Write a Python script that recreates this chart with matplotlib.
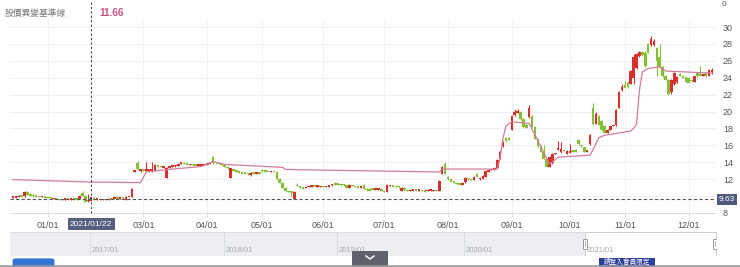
import numpy as np
import matplotlib
matplotlib.use('Agg')
from matplotlib import pyplot as plt
from matplotlib import patches, transforms
from matplotlib.lines import Line2D

plt.rcParams['font.family'] = ['Liberation Sans', 'Noto Sans CJK TC', 'DejaVu Sans']

# daily candles (open, high, low, close), one list per month, Dec 2020 -> Dec 2021
dec20 = [(9.85, 9.95, 9.8, 9.9), (9.85, 10.0, 9.8, 9.95), (9.9, 10.1, 9.85, 10.05), (10.0, 10.05, 9.9, 9.95),
         (10.0, 10.65, 9.95, 10.55), (10.55, 10.6, 10.15, 10.2), (10.3, 10.35, 10.05, 10.1), (10.15, 10.2, 9.95, 10.0),
         (10.0, 10.05, 9.9, 9.95), (10.0, 10.05, 9.85, 9.9), (9.9, 10.0, 9.85, 9.95), (9.95, 10.0, 9.8, 9.85)]
jan21 = [(9.9, 9.95, 9.75, 9.8), (9.8, 9.85, 9.7, 9.75), (9.65, 9.8, 9.6, 9.75), (9.72, 9.78, 9.62, 9.68),
         (9.6, 9.65, 9.5, 9.55), (9.55, 9.65, 9.5, 9.6), (9.58, 9.7, 9.55, 9.65), (9.65, 9.7, 9.55, 9.62),
         (9.6, 9.7, 9.55, 9.66), (9.64, 9.68, 9.55, 9.6), (9.75, 9.8, 9.55, 9.6), (9.7, 10.15, 9.65, 10.1),
         (10.45, 10.65, 10.0, 10.05), (10.05, 10.1, 9.3, 9.35), (9.4, 10.2, 9.35, 9.55), (9.45, 9.95, 9.4, 9.9),
         (9.8, 9.85, 9.55, 9.6), (9.6, 9.7, 9.55, 9.65), (9.65, 9.7, 9.5, 9.55), (9.55, 9.7, 9.5, 9.65)]
feb21 = [(9.6, 9.65, 9.5, 9.55), (9.55, 9.75, 9.5, 9.7), (9.75, 9.8, 9.6, 9.65), (9.7, 10.0, 9.65, 9.95),
         (9.95, 10.0, 9.65, 9.7), (9.7, 9.9, 9.65, 9.85), (9.85, 9.9, 9.7, 9.75), (9.6, 10.0, 9.55, 9.95),
         (9.9, 10.05, 9.85, 10.0), (9.95, 10.9, 9.9, 10.85), (12.9, 13.05, 12.85, 13.0), (14.0, 14.2, 13.1, 13.2),
         (13.0, 13.2, 12.9, 13.1)]
mar21 = [(13.1, 13.15, 12.95, 13.0), (13.0, 14.0, 12.9, 13.05), (13.0, 13.1, 12.9, 13.05), (13.0, 14.0, 12.85, 13.1),
         (13.0, 13.8, 12.95, 13.75), (13.6, 13.65, 13.45, 13.5), (13.5, 13.55, 13.4, 13.45), (13.4, 13.55, 13.35, 13.5),
         (12.2, 13.45, 12.1, 13.4), (13.4, 13.55, 13.35, 13.5), (13.5, 13.6, 13.45, 13.55), (13.55, 13.65, 13.5, 13.6),
         (13.6, 13.9, 13.55, 13.85), (13.85, 13.95, 13.8, 13.9), (13.95, 14.0, 13.75, 13.8), (13.8, 13.85, 13.7, 13.75),
         (13.7, 13.8, 13.65, 13.75), (13.75, 13.8, 13.6, 13.7), (13.7, 13.75, 13.6, 13.65), (13.6, 13.7, 13.55, 13.65),
         (13.65, 13.75, 13.6, 13.7), (13.7, 13.8, 13.65, 13.75)]
apr21 = [(13.75, 13.85, 13.7, 13.8), (13.8, 13.9, 13.75, 13.85), (14.6, 14.8, 13.85, 13.9), (13.95, 14.0, 13.85, 13.9),
         (13.9, 13.95, 13.75, 13.8), (13.8, 13.85, 13.65, 13.7), (13.7, 13.75, 13.45, 13.5), (13.5, 13.55, 13.25, 13.3),
         (12.2, 13.35, 12.15, 13.3), (13.2, 13.25, 12.95, 13.0), (13.0, 13.05, 12.85, 12.9), (12.9, 12.95, 12.75, 12.8),
         (12.8, 12.85, 12.65, 12.7), (12.7, 12.75, 12.6, 12.65), (12.65, 12.7, 12.55, 12.6), (12.55, 12.9, 12.4, 12.75),
         (12.7, 12.75, 12.6, 12.65), (12.65, 12.75, 12.6, 12.7), (12.75, 12.8, 12.6, 12.65)]
may21 = [(13.1, 13.15, 12.9, 12.95), (12.95, 13.0, 12.85, 12.9), (12.9, 12.95, 12.8, 12.85), (12.85, 12.95, 12.8, 12.92),
         (12.95, 13.0, 12.8, 12.85), (12.9, 12.95, 12.05, 12.1), (12.1, 12.15, 11.55, 11.6), (11.6, 11.65, 10.95, 11.0),
         (11.0, 11.05, 10.55, 10.6), (10.6, 10.65, 10.45, 10.5), (10.5, 10.55, 10.0, 10.45), (9.7, 10.55, 9.6, 10.5),
         (11.4, 11.5, 11.15, 11.2), (11.2, 11.25, 10.95, 11.0), (11.0, 11.05, 10.85, 10.9), (10.95, 11.1, 10.9, 11.05),
         (11.1, 11.2, 11.05, 11.15), (11.15, 11.25, 11.1, 11.2), (11.2, 11.25, 11.1, 11.15), (11.15, 11.25, 11.1, 11.2),
         (11.1, 11.25, 11.05, 11.2)]
jun21 = [(11.2, 11.25, 11.05, 11.1), (11.1, 11.2, 11.05, 11.15), (11.1, 11.35, 11.05, 11.3), (11.3, 11.4, 11.25, 11.35),
         (11.45, 11.65, 11.35, 11.4), (11.4, 11.45, 11.3, 11.35), (11.35, 11.4, 11.25, 11.3), (11.4, 11.45, 11.25, 11.3),
         (11.4, 11.45, 10.9, 10.95), (10.95, 11.4, 10.9, 11.35), (11.3, 11.35, 11.15, 11.2), (11.2, 11.25, 11.05, 11.1),
         (11.1, 11.15, 10.95, 11.0), (11.0, 11.1, 10.95, 11.05), (11.35, 11.4, 10.85, 10.9), (10.9, 10.95, 10.65, 10.7),
         (10.9, 10.95, 10.55, 10.6), (10.8, 10.85, 10.7, 10.75), (10.75, 10.85, 10.7, 10.8), (10.8, 10.9, 10.75, 10.85),
         (10.85, 10.9, 10.55, 10.6)]
jul21 = [(10.6, 10.65, 10.45, 10.5), (10.5, 11.4, 10.45, 11.35), (11.2, 11.35, 11.15, 11.3), (11.2, 11.25, 11.1, 11.15),
         (11.15, 11.2, 11.05, 11.1), (11.1, 11.15, 11.0, 11.05), (10.65, 11.05, 10.6, 11.0), (11.0, 11.05, 10.65, 10.7),
         (10.8, 10.85, 10.55, 10.6), (10.6, 10.7, 10.55, 10.65), (10.65, 10.75, 10.6, 10.7), (10.7, 10.75, 10.6, 10.65),
         (10.65, 10.75, 10.6, 10.7), (10.7, 10.75, 10.55, 10.6), (10.8, 10.85, 10.5, 10.55), (10.6, 10.7, 10.55, 10.65),
         (10.65, 10.75, 10.6, 10.7), (10.62, 10.7, 10.55, 10.66), (10.66, 10.72, 10.58, 10.62), (10.6, 11.85, 10.55, 11.8),
         (12.7, 13.6, 12.6, 13.5), (13.8, 14.0, 12.6, 12.7)]
aug21 = [(12.3, 12.4, 11.95, 12.0), (12.0, 12.05, 11.65, 11.7), (11.75, 11.8, 11.55, 11.6), (11.6, 11.65, 11.4, 11.45),
         (11.5, 11.55, 11.3, 11.35), (11.4, 11.65, 11.35, 11.6), (11.65, 12.25, 11.6, 12.2), (12.1, 12.15, 11.95, 12.0),
         (12.0, 12.05, 11.85, 11.9), (11.9, 12.35, 11.85, 12.3), (12.6, 12.7, 12.25, 12.3), (12.0, 12.25, 11.95, 12.2),
         (12.1, 12.45, 12.05, 12.4), (12.3, 13.0, 12.25, 12.95), (12.9, 13.15, 12.85, 13.1), (13.1, 13.25, 13.05, 13.2),
         (13.1, 13.45, 13.05, 13.4), (13.4, 14.35, 13.35, 14.3), (14.5, 15.4, 14.4, 15.3), (15.9, 16.5, 15.8, 16.4),
         (16.9, 17.0, 16.45, 16.5), (16.9, 17.0, 16.65, 16.7)]
sep21 = [(17.9, 19.6, 17.8, 19.5), (19.6, 20.3, 19.5, 20.0), (19.9, 20.3, 19.8, 20.0), (20.0, 20.1, 19.05, 19.1),
         (19.1, 19.2, 18.15, 18.2), (18.5, 18.6, 18.05, 18.1), (19.35, 20.8, 19.3, 20.5), (19.5, 19.6, 18.15, 18.2),
         (18.2, 18.3, 16.75, 16.8), (16.8, 16.9, 15.85, 15.9), (15.9, 16.0, 15.25, 15.3), (15.3, 16.0, 14.35, 14.4),
         (14.4, 14.5, 13.45, 13.5), (13.5, 14.75, 13.4, 14.7), (13.9, 15.05, 13.85, 15.0), (15.0, 15.15, 14.95, 15.1),
         (15.5, 16.5, 15.45, 15.7), (15.2, 16.4, 15.15, 15.6), (15.4, 15.45, 15.3, 15.35), (15.0, 15.45, 14.95, 15.4)]
oct21 = [(15.1, 16.2, 15.05, 15.35), (15.4, 15.45, 15.25, 15.3), (15.5, 15.55, 15.25, 15.3), (16.7, 16.8, 16.1, 16.15),
         (16.0, 16.05, 15.85, 15.9), (15.8, 15.85, 15.25, 15.3), (15.3, 15.4, 15.25, 15.35), (16.15, 17.35, 16.1, 17.3),
         (20.5, 21.0, 18.4, 18.6), (18.6, 19.9, 18.5, 19.8), (19.5, 19.6, 18.45, 18.5), (18.9, 19.0, 17.75, 17.8),
         (18.3, 18.35, 17.45, 17.5), (17.5, 17.95, 17.45, 17.9), (17.9, 18.35, 17.85, 18.3), (18.3, 18.45, 18.25, 18.4),
         (18.4, 20.3, 18.35, 20.2), (20.5, 22.4, 20.4, 22.3), (22.6, 23.3, 22.4, 23.0)]
nov21 = [(23.2, 23.6, 22.75, 22.8), (23.4, 23.6, 22.85, 22.9), (23.3, 24.9, 23.25, 24.8), (24.0, 26.8, 23.3, 26.5),
         (25.2, 26.9, 25.1, 26.8), (26.6, 27.2, 26.5, 27.1), (27.1, 27.2, 26.6, 26.7), (27.0, 27.2, 25.3, 25.4),
         (28.0, 28.1, 26.9, 27.0), (27.9, 28.9, 27.8, 28.6), (27.9, 28.6, 27.8, 28.4), (27.6, 27.7, 24.2, 26.0),
         (26.5, 28.0, 25.2, 25.3), (25.3, 25.4, 24.15, 24.2), (24.2, 24.3, 23.75, 23.8), (23.8, 23.9, 22.0, 22.1),
         (22.3, 23.9, 22.1, 23.8), (23.3, 24.7, 23.2, 24.6), (23.5, 24.2, 23.4, 24.1), (24.5, 24.6, 24.25, 24.3),
         (24.2, 24.3, 23.95, 24.0), (24.1, 24.2, 23.45, 23.5)]
dec21 = [(24.0, 24.1, 23.35, 23.4), (23.7, 23.8, 23.5, 23.6), (23.5, 24.25, 23.45, 24.2), (24.6, 24.7, 24.15, 24.2),
         (24.5, 25.4, 24.25, 24.3), (24.3, 24.4, 24.2, 24.35), (24.6, 24.7, 24.15, 24.2), (24.3, 25.0, 24.25, 24.9),
         (24.7, 25.2, 24.4, 25.0)]

months = [dec20, jan21, feb21, mar21, apr21, may21, jun21, jul21, aug21, sep21, oct21, nov21, dec21]
month_labels = [None, '01/01', None, '03/01', '04/01', '05/01', '06/01', '07/01', '08/01', '09/01', '10/01', '11/01', '12/01']

# baseline (pink step line) vertices: candle index, price
base_idx = [0, 27, 44, 46, 55, 65, 69, 73, 93, 94, 147, 148, 167, 168, 169, 170, 172, 178, 185, 188, 199,
            200, 202, 204, 213, 214, 215, 216, 217, 219, 223, 225, 241]
base_val = [11.95, 11.66, 11.6, 12.9, 13.2, 13.5, 14.1, 13.75, 13.4, 13.15, 12.85, 13.2, 13.2, 14.6, 16.9, 18.3,
            18.8, 18.6, 13.8, 14.6, 14.85, 15.5, 16.9, 17.2, 17.7, 18.0, 18.5, 22.5, 24.7, 25.1, 25.3, 24.8, 24.55]

cross_idx = 27
cross_date = '2021/01/22'
base_at_cross = 11.66
last_ref = 9.63
nav_years = ['2017/01', '2018/01', '2019/01', '2020/01', '2021/01']

ohlc = np.array([c for m in months for c in m])
o, h, l, c = ohlc[:, 0], ohlc[:, 1], ohlc[:, 2], ohlc[:, 3]
idx = np.arange(len(ohlc))
starts = np.cumsum([0] + [len(m) for m in months[:-1]])

W, H = 740, 267
fig = plt.figure(figsize=(7.4, 2.67), dpi=100)

def fx(px):
    return px / W

def fy(py):
    return 1 - py / H

ax = fig.add_axes([fx(10), fy(213), fx(706), 193 / H])
ax.set_xlim(-1.0, 242.4)
ax.set_ylim(8.0, 30.84)

up = c >= o
red, green = '#d62f2c', '#84bf36'
cols = np.where(up, red, green)
ax.vlines(idx, l, h, colors=cols, lw=0.8, zorder=3)
ax.bar(idx, np.maximum(np.abs(c - o), 0.18), bottom=np.minimum(o, c) - 0.03, width=0.88,
       color=cols, linewidth=0, zorder=4)

ax.plot(base_idx, base_val, color='#d27c9c', lw=0.9, zorder=5)

# grid + axes cosmetics
for v in range(8, 31, 2):
    ax.axhline(v, color='#eeeeee', lw=0.6, zorder=0)
tick_pos = [s for s, lab in zip(starts, month_labels) if lab]
tick_lab = [lab for lab in month_labels if lab]
for t in tick_pos:
    ax.axvline(t, color='#f0f0f0', lw=0.6, zorder=0)
ax.set_xticks(tick_pos)
ax.set_xticklabels(tick_lab, fontsize=6.5, color='#555555')
ax.tick_params(axis='x', length=3, color='#dddddd', pad=3)
ax.yaxis.tick_right()
ax.set_yticks([8, 12, 14, 16, 18, 20, 22, 24, 26, 28, 30])
ax.set_yticklabels(['8', '12', '14', '16', '18', '20', '22', '24', '26', '28', '30'], fontsize=6.5, color='#555555')
ax.tick_params(axis='y', length=0, pad=5)
for side in ['top', 'left', 'right']:
    ax.spines[side].set_visible(False)
ax.spines['bottom'].set_color('#dddddd')
ax.spines['bottom'].set_linewidth(0.7)

# last price line + label
ax.axhline(last_ref, color='#555555', lw=0.8, ls=(0, (3, 2)), zorder=6)
trY = transforms.blended_transform_factory(ax.transAxes, ax.transData)
ax.text(1.004, last_ref, '{:.2f}'.format(last_ref), transform=trY, fontsize=6, color='white',
        va='center', ha='left', clip_on=False,
        bbox=dict(boxstyle='square,pad=0.25', fc='#4d5a7c', ec='none'), zorder=7)

# crosshair
ax.axvline(cross_idx, ymin=0, ymax=1 + 20 / 193, color='#444444', lw=0.8, ls=(0, (2, 2)),
           clip_on=False, zorder=6)
trX = transforms.blended_transform_factory(ax.transData, ax.transAxes)
ax.text(cross_idx, -0.04, cross_date, transform=trX, fontsize=6, color='white', ha='center', va='top',
        clip_on=False, bbox=dict(boxstyle='square,pad=0.3', fc='#56617f', ec='none'), zorder=8)

# header
fig.text(fx(5), fy(13), '股價異變基準線', fontsize=6.3, color='#777777', va='center', ha='left')
fig.text(fx(99), fy(13), '{:.2f}'.format(base_at_cross), fontsize=7.2, color='#c9517f',
         fontweight='bold', va='center', ha='left')
fig.text(fx(722), fy(5), '0', fontsize=6, color='#555555', va='center', ha='left')

# navigator
nav = fig.add_axes([fx(10), fy(256), fx(707), 24 / H])
nav.set_xlim(10, 717)
nav.set_ylim(0, 1)
nav.axis('off')
nav.add_patch(patches.Rectangle((10, 0), 575, 1, fc='#eceef1', ec='none'))
nav.add_patch(patches.Rectangle((585, 0), 131, 1, fc='white', ec='#cccccc', lw=0.7))
nav.plot([10, 585], [1, 1], color='#dddddd', lw=0.7)
for xp, lab in zip([90, 224, 337, 464, 585], nav_years):
    if xp < 585:
        nav.plot([xp, xp], [0, 1], color='#d9dce0', lw=0.7)
    nav.text(xp + 2, 0.22, lab, fontsize=5.5, color='#aaaaaa', va='center', ha='left')
for xp in [585, 714.5]:
    nav.add_patch(patches.Rectangle((xp - 2, 0.3), 4, 0.42, fc='white', ec='#999999', lw=0.7))
    nav.plot([xp, xp], [0.4, 0.62], color='#999999', lw=0.5)

# bottom strip
fig.add_artist(Line2D([0, 1], [fy(265.5), fy(265.5)], color='#9a9a9a', lw=1.2, transform=fig.transFigure))
fig.add_artist(patches.FancyBboxPatch((fx(17), fy(268)), fx(33), 8 / H, boxstyle='round,pad=0.006',
                                      fc='#3274d6', ec='none', transform=fig.transFigure))
fig.add_artist(patches.Rectangle((fx(352), fy(267)), fx(36), 16 / H, fc='#5e626c', ec='none',
                                 transform=fig.transFigure))
fig.add_artist(Line2D([fx(366), fx(370), fx(374)], [fy(256), fy(259), fy(256)], color='white', lw=1.1,
                      transform=fig.transFigure))
fig.add_artist(patches.Rectangle((fx(599), fy(267)), fx(56), 9 / H, fc='#2d3f9d', ec='none',
                                 transform=fig.transFigure))
fig.text(fx(627), fy(262.8), '請登入會員限定', fontsize=4.8, color='white', ha='center', va='center')

fig.savefig('out.png', dpi=100, facecolor='white')
